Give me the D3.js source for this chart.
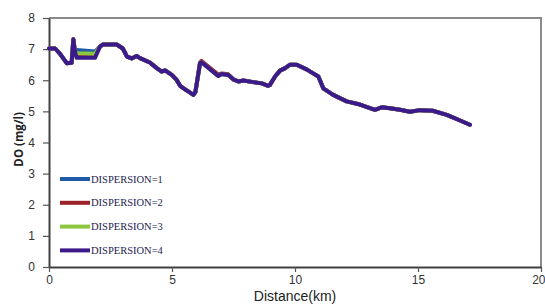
<!DOCTYPE html>
<html>
<head>
<meta charset="utf-8">
<script src="https://cdn.jsdelivr.net/npm/d3@7"></script>
<style>
  body { margin: 0; background: #fff; }
  svg { display: block; }
</style>
</head>
<body>
<div id="chart"></div>
<script>
// distance along the river (km) and DO (mg/l) per dispersion run
const distance = [0.0, 0.25, 0.45, 0.72, 0.92, 0.99, 1.05, 1.12, 1.87, 2.07, 2.2, 2.75, 3.0, 3.17, 3.36, 3.56, 3.7, 4.1, 4.38, 4.58, 4.72, 4.99, 5.19, 5.33, 5.53, 5.66, 5.87, 5.95, 6.14, 6.2, 6.88, 7.02, 7.29, 7.49, 7.7, 7.9, 8.3, 8.65, 8.91, 8.98, 9.19, 9.39, 9.6, 9.8, 10.07, 10.47, 10.74, 10.95, 11.15, 11.55, 12.1, 12.64, 13.25, 13.52, 13.86, 14.27, 14.67, 15.08, 15.6, 16.17, 16.64, 17.11];
const dispersion4 = [7.02, 7.02, 6.85, 6.55, 6.56, 7.32, 6.95, 6.72, 6.72, 7.08, 7.15, 7.15, 7.02, 6.76, 6.70, 6.78, 6.71, 6.57, 6.39, 6.28, 6.32, 6.17, 6.01, 5.82, 5.71, 5.64, 5.53, 5.62, 6.55, 6.58, 6.14, 6.20, 6.17, 6.03, 5.96, 5.99, 5.94, 5.90, 5.82, 5.85, 6.12, 6.31, 6.39, 6.50, 6.50, 6.35, 6.22, 6.12, 5.74, 5.53, 5.32, 5.22, 5.05, 5.13, 5.10, 5.05, 4.99, 5.04, 5.02, 4.89, 4.73, 4.57];
const dispersion1 = [7.02, 7.02, 6.85, 6.55, 6.56, 7.32, 6.97, 6.97, 6.92, 7.08, 7.15, 7.15, 7.02, 6.76, 6.70, 6.78, 6.71, 6.57, 6.39, 6.28, 6.32, 6.17, 6.01, 5.82, 5.71, 5.64, 5.53, 5.62, 6.55, 6.58, 6.14, 6.20, 6.17, 6.03, 5.96, 5.99, 5.94, 5.90, 5.82, 5.85, 6.12, 6.31, 6.39, 6.50, 6.50, 6.35, 6.22, 6.12, 5.74, 5.53, 5.32, 5.22, 5.05, 5.13, 5.10, 5.05, 4.99, 5.04, 5.02, 4.89, 4.73, 4.57];
const dispersion2 = [7.02, 7.02, 6.85, 6.55, 6.56, 7.32, 6.92, 6.82, 6.80, 7.08, 7.15, 7.15, 7.02, 6.76, 6.70, 6.78, 6.71, 6.57, 6.39, 6.28, 6.32, 6.17, 6.01, 5.82, 5.71, 5.64, 5.53, 5.62, 6.57, 6.62, 6.18, 6.22, 6.19, 6.03, 5.96, 5.99, 5.94, 5.90, 5.82, 5.85, 6.12, 6.31, 6.39, 6.50, 6.50, 6.35, 6.22, 6.12, 5.74, 5.53, 5.32, 5.22, 5.05, 5.13, 5.10, 5.05, 4.99, 5.04, 5.02, 4.89, 4.73, 4.57];
const dispersion3 = [7.02, 7.02, 6.85, 6.55, 6.56, 7.32, 6.94, 6.87, 6.85, 7.08, 7.15, 7.15, 7.02, 6.76, 6.70, 6.78, 6.71, 6.57, 6.39, 6.28, 6.32, 6.17, 6.01, 5.82, 5.71, 5.64, 5.53, 5.62, 6.55, 6.58, 6.14, 6.20, 6.17, 6.03, 5.96, 5.99, 5.94, 5.90, 5.82, 5.85, 6.12, 6.31, 6.39, 6.50, 6.50, 6.35, 6.22, 6.12, 5.74, 5.53, 5.32, 5.22, 5.05, 5.13, 5.10, 5.05, 4.99, 5.04, 5.02, 4.89, 4.73, 4.57];

const seriesNames = ["DISPERSION=1", "DISPERSION=2", "DISPERSION=3", "DISPERSION=4"];
const seriesValues = [dispersion1, dispersion2, dispersion3, dispersion4];
const seriesColors = ["#1f5aa6", "#9b2226", "#8dc63f", "#3c1a8c"];
const xTicks = [0, 5, 10, 15, 20];
const yTicks = [0, 1, 2, 3, 4, 5, 6, 7, 8];

const width = 545, height = 304;
const margin = {top: 18, right: 4, bottom: 37, left: 49};

const svg = d3.select("#chart")
  .append("svg")
  .attr("width", width)
  .attr("height", height);

const xScale = d3.scaleLinear()
  .domain([0, 20])
  .range([margin.left, width - margin.right]);

const yScale = d3.scaleLinear()
  .domain([0, 8])
  .range([height - margin.bottom, margin.top]);

// top and right frame
svg.append("path")
  .attr("d", `M${xScale(0)},${yScale(8)}H${xScale(20)}V${yScale(0)}`)
  .attr("fill", "none")
  .attr("stroke", "#8a8a8a")
  .attr("stroke-width", 2);

const xAxis = d3.axisBottom(xScale)
  .tickValues(xTicks)
  .tickSize(5)
  .tickSizeOuter(0)
  .tickPadding(3);

const yAxis = d3.axisLeft(yScale)
  .tickValues(yTicks)
  .tickSize(6)
  .tickSizeOuter(0)
  .tickPadding(8);

const gx = svg.append("g")
  .attr("class", "axis x-axis")
  .attr("transform", `translate(0,${yScale(0)})`)
  .call(xAxis);

const gy = svg.append("g")
  .attr("class", "axis y-axis")
  .attr("transform", `translate(${xScale(0)},0)`)
  .call(yAxis);

svg.selectAll(".axis .domain")
  .attr("stroke", "#404040")
  .attr("stroke-width", 2);
svg.selectAll(".axis .tick line")
  .attr("stroke", "#555")
  .attr("stroke-width", 1.2);
svg.selectAll(".axis text")
  .attr("font-family", "Liberation Sans, Arial, sans-serif")
  .attr("font-size", 12)
  .attr("fill", "#333");

// last x label sits against the page edge
gx.selectAll(".tick text")
  .filter(d => d === 20)
  .attr("text-anchor", "end")
  .attr("dx", 4);

// axis titles
svg.append("text")
  .attr("x", xScale(10))
  .attr("y", 300.5)
  .attr("text-anchor", "middle")
  .attr("font-family", "Liberation Sans, Arial, sans-serif")
  .attr("font-size", 14)
  .attr("fill", "#222")
  .text("Distance(km)");

svg.append("text")
  .attr("transform", `translate(23,${yScale(4.1)}) rotate(-90)`)
  .attr("text-anchor", "middle")
  .attr("font-family", "Open Sans, sans-serif")
  .attr("font-weight", "bold")
  .attr("font-size", 11.5)
  .attr("fill", "#222")
  .text("DO (mg/l)");

const line = d3.line()
  .x((d, i) => xScale(distance[i]))
  .y(d => yScale(d));

svg.selectAll(".series")
  .data(seriesValues)
  .enter()
  .append("path")
  .attr("class", "series")
  .attr("d", line)
  .attr("fill", "none")
  .attr("stroke", (d, i) => seriesColors[i])
  .attr("stroke-width", 4)
  .attr("stroke-linejoin", "round")
  .attr("stroke-linecap", "round");

// legend
const legend = svg.append("g")
  .attr("transform", "translate(60,179)");

const items = legend.selectAll(".item")
  .data(seriesNames)
  .enter()
  .append("g")
  .attr("class", "item")
  .attr("transform", (d, i) => `translate(0,${i * 23.8})`);

items.append("line")
  .attr("x1", 0)
  .attr("x2", 30)
  .attr("stroke", (d, i) => seriesColors[i])
  .attr("stroke-width", 4);

items.append("text")
  .attr("x", 31)
  .attr("y", 3.5)
  .attr("font-family", "Liberation Serif, Times New Roman, serif")
  .attr("font-size", 10.5)
  .attr("fill", "#1c1c50")
  .text(d => d);
</script>
</body>
</html>
